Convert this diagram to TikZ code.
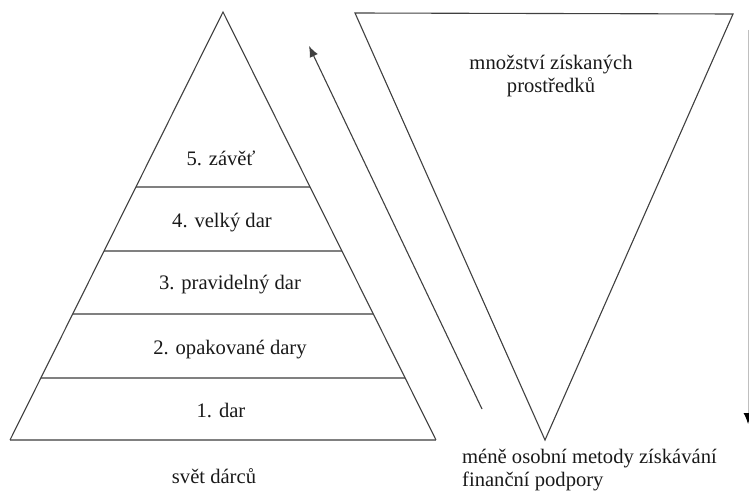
\documentclass[tikz,border=0pt]{standalone}
\usepackage{fontspec}
\setmainfont{Liberation Serif}
\newfontfamily\timesfont{Liberation Serif}
\usetikzlibrary{arrows.meta,calc}
\tikzset{
  edge/.style={draw=black!75, line width=1.1pt},
  level/.style={draw=black!50, line width=2pt},
  lbl/.style={font=\timesfont\fontsize{20.6}{23}\selectfont, inner sep=0pt, text=black!90},
  arr/.style={draw=black!75, line width=1.1pt, -{Latex[length=11pt,width=9pt]}},
}
\begin{document}
\begin{tikzpicture}[x=1pt,y=-1pt]
\useasboundingbox (0,0) rectangle (749,492);
% pyramid
\coordinate (apex) at (223,12);
\coordinate (bl) at (10,440);
\coordinate (br) at (436,440);
\foreach \t/\n in {0.409/a,0.558/b,0.706/c,0.855/d}{
  \coordinate (l\n) at ($(apex)!\t!(bl)$);
  \coordinate (r\n) at ($(apex)!\t!(br)$);
}
\draw[level] (la) -- (ra);
\draw[level] (lb) -- (rb);
\draw[level] (lc) -- (rc);
\draw[level] (ld) -- (rd);
\draw[level] (bl) -- (br);
\draw[edge] (bl) -- (apex) -- (br);
% labels
\node[lbl] (p5) at (221,158) {5. závěť};
\node[lbl] (p4) at (222,223) {4. velký dar};
\node[lbl] (p3) at (230,285) {3. pravidelný dar};
\node[lbl] (p2) at (230,350) {2. opakované dary};
\node[lbl] (p1) at (221,410) {1. dar};
\node[lbl] (svet) at (214,476) {svět dárců};
% inverted triangle
\coordinate (tl) at (355,13);
\coordinate (tr) at (733,14);
\coordinate (bot) at (545,440);
\draw[edge] (tl) -- (tr) -- (bot) -- cycle;
\node[lbl, align=center] (mnoz) at (551,76) {množství získaných\\prostředků};
\node[lbl, align=left, anchor=north west] (mene) at (462,449) {méně osobní metody získávání\\finanční podpory};
% arrows
\coordinate (a1) at (482,409);
\coordinate (a2) at (309,46);
\draw[arr] (a1) -- (a2);
\coordinate (v1) at (748,30);
\coordinate (v2) at (748,424);
\draw[draw=black!25, line width=1pt, -{Latex[length=11pt,width=9pt,color=black]}] (v1) -- (v2);
\end{tikzpicture}
\end{document}
